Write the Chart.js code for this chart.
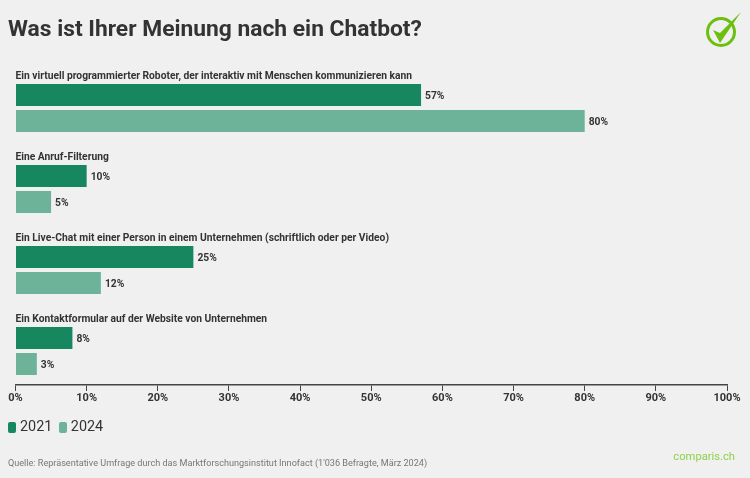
<!DOCTYPE html>
<html lang="de">
<head>
<meta charset="utf-8">
<script src="https://cdn.jsdelivr.net/npm/chart.js@4"></script>
<style>
  html, body { margin: 0; padding: 0; }
  body { width: 750px; height: 478px; background: #f0f0f0; position: relative; overflow: hidden; font-family: Roboto, sans-serif; color: #333; }
  #chart { position: absolute; left: 0; top: 0; }
  h1 { position: absolute; left: 8px; top: 15px; margin: 0; font-size: 22.8px; line-height: 28px; font-weight: 700; white-space: nowrap; }
  #legend { position: absolute; left: 8px; top: 417px; display: flex; font-size: 14.4px; line-height: 20px; }
  #legend span { display: flex; align-items: center; margin-right: 6.5px; }
  #legend i { width: 8px; height: 11px; border-radius: 2px; margin-right: 4px; }
  #source { position: absolute; left: 8px; top: 456px; font-size: 9.1px; line-height: 14px; color: #777; white-space: nowrap; }
  #brand { position: absolute; right: 15px; top: 449px; font-size: 11.2px; line-height: 16px; color: #8ed14a; }
  #logo { position: absolute; left: 700px; top: 8px; }
</style>
</head>
<body>
<canvas id="chart" width="750" height="478"></canvas>
<h1>Was ist Ihrer Meinung nach ein Chatbot?</h1>
<svg id="logo" width="45" height="42" viewBox="0 0 45 42">
  <circle cx="21" cy="24" r="13.5" fill="none" stroke="#6cbf0c" stroke-width="3"></circle>
  <path d="M13 22 L20 25 L41 4 L20 35 Z" fill="#6cbf0c"></path>
</svg>
<div id="legend"></div>
<div id="source">Quelle: Repräsentative Umfrage durch das Marktforschungsinstitut Innofact (1'036 Befragte, März 2024)</div>
<div id="brand">comparis.ch</div>
<script>
// Daten aus der Vorlage
const categories = [
  'Ein virtuell programmierter Roboter, der interaktiv mit Menschen kommunizieren kann',
  'Eine Anruf-Filterung',
  'Ein Live-Chat mit einer Person in einem Unternehmen (schriftlich oder per Video)',
  'Ein Kontaktformular auf der Website von Unternehmen'
];
const values2021 = [57, 10, 25, 8];
const values2024 = [80, 5, 12, 3];
const seriesLabels = ['2021', '2024'];
const seriesColors = ['#17875f', '#6cb39a'];

const textColor = '#333333';

// Kategorie- und Wertbeschriftungen direkt an den Balken
const barLabels = {
  id: 'barLabels',
  afterDatasetsDraw(chart) {
    const { ctx, scales: { x, y } } = chart;
    ctx.save();
    ctx.fillStyle = textColor;
    ctx.textBaseline = 'middle';
    ctx.textAlign = 'left';
    ctx.font = '700 10.27px Roboto';
    categories.forEach((name, i) => {
      ctx.fillText(name, x.getPixelForValue(0), y.getPixelForValue(i) - 32);
    });
    chart.data.datasets.forEach((dataset, d) => {
      chart.getDatasetMeta(d).data.forEach((bar, i) => {
        ctx.fillText(dataset.data[i].x + '%', bar.x + 4, bar.y + 1.5);
      });
    });
    ctx.restore();
  }
};

const toPoints = values => values.map((v, i) => ({ x: v, y: i }));

new Chart(document.getElementById('chart'), {
  type: 'bar',
  data: {
    datasets: [
      { label: seriesLabels[0], data: toPoints(values2021), backgroundColor: seriesColors[0] },
      { label: seriesLabels[1], data: toPoints(values2024), backgroundColor: seriesColors[1] }
    ]
  },
  plugins: [barLabels],
  options: {
    indexAxis: 'y',
    responsive: false,
    animation: false,
    categoryPercentage: 0.642,
    barPercentage: 0.846,
    layout: { padding: { left: 15.5, right: 23, top: 61, bottom: 73 } },
    scales: {
      x: {
        min: 0,
        max: 100,
        grid: { display: true, drawOnChartArea: false, drawTicks: true, tickLength: 6, color: '#444', lineWidth: 1 },
        border: { color: '#444', width: 1.5 },
        afterFit(scale) { scale.height = 20; },
        ticks: {
          stepSize: 10,
          maxRotation: 0,
          padding: 1,
          color: textColor,
          font: { family: 'Roboto', size: 11, weight: '700' },
          callback: v => v + '%'
        }
      },
      // lineare Achse, damit die Balken im Band nach unten versetzt sitzen
      y: {
        type: 'linear',
        offset: false,
        reverse: true,
        min: -47 / 81,
        max: 277 / 81,
        display: false,
        afterBuildTicks(scale) { scale.ticks = categories.map((_, i) => ({ value: i })); }
      }
    },
    plugins: {
      legend: { display: false },
      tooltip: { enabled: false }
    }
  }
});

// Legende aus den Serien aufbauen
seriesLabels.forEach((label, i) => {
  const item = document.createElement('span');
  const swatch = document.createElement('i');
  swatch.style.background = seriesColors[i];
  item.appendChild(swatch);
  item.appendChild(document.createTextNode(label));
  document.getElementById('legend').appendChild(item);
});
</script>
</body>
</html>
